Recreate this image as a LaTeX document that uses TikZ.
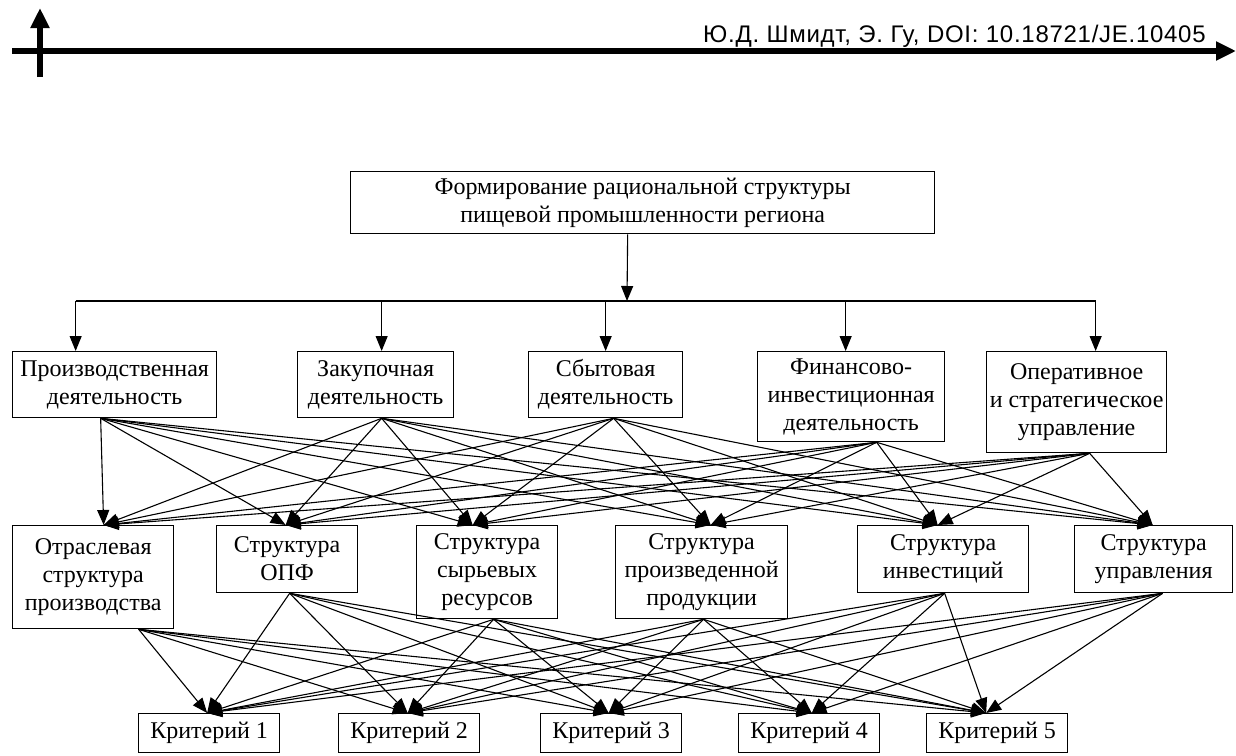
\documentclass[tikz,border=0pt]{standalone}
\usepackage{fontspec}
\setmainfont{Liberation Serif}
\newfontfamily\hdrfont[LetterSpace=3]{Liberation Sans}
\usetikzlibrary{arrows.meta}
\tikzset{
  blk/.style={draw,line width=1.3pt,align=center,anchor=north west,inner sep=2pt,
    font=\fontsize{24}{28}\selectfont},
  arr/.style={line width=1.1pt,-{Triangle[length=15pt,width=12pt]}},
  hdr/.style={line width=5.5pt,-{Triangle[length=20pt,width=18pt]}}
}
\begin{document}
\begin{tikzpicture}[x=1pt,y=-1pt]
\useasboundingbox (0,0) rectangle (1236,755);
% header
\coordinate (hl) at (12,51);
\coordinate (hr) at (1236,51);
\coordinate (vb) at (40,77);
\coordinate (vt) at (40,8);
\draw[hdr] (hl) -- (hr);
\draw[hdr] (vb) -- (vt);
\node[anchor=base west,inner sep=0,font=\hdrfont\fontsize{24}{28}\selectfont] (doi) at (703,42) {Ю.Д. Шмидт, Э. Гу, DOI: 10.18721/JE.10405};
% top
\node[blk,minimum width=584pt,minimum height=62pt] (top) at (350,171) {Формирование рациональной структуры\\пищевой промышленности региона};
% activities
\node[blk,minimum width=204pt,minimum height=66pt] (a1) at (12,351) {Производственная\\деятельность};
\node[blk,minimum width=156pt,minimum height=66pt] (a2) at (297,351) {Закупочная\\деятельность};
\node[blk,minimum width=154pt,minimum height=66pt] (a3) at (528,351) {Сбытовая\\деятельность};
\node[blk,minimum width=187pt,minimum height=90pt] (a4) at (757,351) {Финансово-\\инвестиционная\\деятельность};
\node[blk,minimum width=180pt,minimum height=101pt] (a5) at (986,351) {Оперативное\\и стратегическое\\управление};
% structures
\node[blk,minimum width=161pt,minimum height=103pt] (s1) at (12,525) {Отраслевая\\структура\\производства};
\node[blk,minimum width=141pt,minimum height=67pt] (s2) at (216,525) {Структура\\ОПФ};
\node[blk,minimum width=141pt,minimum height=93pt] (s3) at (416,525) {Структура\\сырьевых\\ресурсов};
\node[blk,minimum width=172pt,minimum height=93pt] (s4) at (615,525) {Структура\\произведенной\\продукции};
\node[blk,minimum width=171pt,minimum height=67pt] (s5) at (857,525) {Структура\\инвестиций};
\node[blk,minimum width=158pt,minimum height=67pt] (s6) at (1074,525) {Структура\\управления};
% criteria
\foreach \k/\x in {1/138,2/338,3/540,4/738,5/926}
  \node[blk,minimum width=141pt,minimum height=39pt] (k\k) at (\x,713) {Критерий \k};
% in / out points
\coordinate (tout) at ([xshift=-15pt]top.south);
\foreach \n/\i/\o in {1/-39/-14,2/6/6,3/0/8,4/-5.5/25.5,5/19/13} {
  \coordinate (ai\n) at ([xshift=\i pt]a\n.north);
  \coordinate (ao\n) at ([xshift=\o pt]a\n.south);
}
\foreach \n/\i/\o in {1/10.5/45.5,2/-1.5/2.5,3/-14.5/6.5,4/9/2,5/-5.5/1.5,6/-1/9} {
  \coordinate (si\n) at ([xshift=\i pt]s\n.north);
  \coordinate (so\n) at ([xshift=\o pt]s\n.south);
}
\foreach \n/\i in {1/-2,2/-1.5,3/-2.5,4/2.5,5/-11}
  \coordinate (ki\n) at ([xshift=\i pt]k\n.north);
% tree
\coordinate (bus) at (627,301);
\draw[arr] (tout) -- (bus);
\draw[line width=1.1pt] (ai1 |- bus) -- (ai5 |- bus);
\foreach \n in {1,...,5}
  \draw[arr] (ai\n |- bus) -- (ai\n);
% activities to structures
\foreach \a in {1,...,5}
  \foreach \s in {1,...,6}
    \draw[arr] (ao\a) -- (si\s);
% structures to criteria
\foreach \s in {1,...,6}
  \foreach \k in {1,...,5}
    \draw[arr] (so\s) -- (ki\k);
\end{tikzpicture}
\end{document}
